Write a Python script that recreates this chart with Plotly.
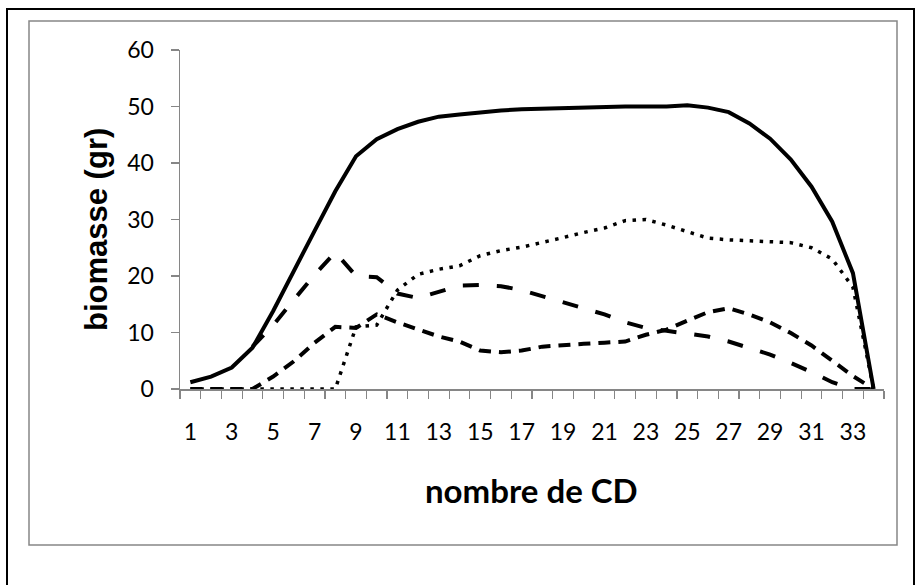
import plotly.graph_objects as go

# ---- data ----
cd = list(range(1, 35))
tick_vals = list(range(1, 34, 2))
tick_text = [str(v) for v in tick_vals]

total = [1.2, 2.2, 3.8, 7.3, 13.8, 21, 28, 35, 41.2, 44.2,
         46, 47.3, 48.2, 48.6, 49, 49.3, 49.5, 49.6, 49.8, 49.9,
         50, 50, 50, 50, 50.2, 49.8, 49, 47, 44.3, 40.6,
         35.8, 29.6, 20.5, 0]
long_dash = [None, None, None, 7.5, 11.3, 15.8, 20.2, 24.2, 20, 19.8,
             16.9, 16.1, 17.2, 18.3, 18.4, 18.2, 17.5, 16.4, 15.3, 14.3,
             13.2, 11.8, 10.8, 10.3, 9.8, 9.3, 8.4, 7.3, 6.1, 4.6,
             3, 1.2, 0, 0]
medium_dash = [0, 0, 0, 0, 2.2, 4.9, 8.2, 11, 10.8, 13.2,
               11.8, 10.6, 9.3, 8.4, 6.8, 6.5, 6.8, 7.5, 7.8, 8.0,
               8.2, 8.4, 9.6, 10.5, 12.1, 13.6, 14.3, 13.2, 11.8, 9.9,
               7.7, 4.9, 2.3, 0]
dotted = [0, 0, 0, 0, 0, 0, 0, 0, 11, 11.3,
          17.5, 20.3, 21.2, 21.8, 23.6, 24.5, 25.1, 25.9, 26.8, 27.7,
          28.5, 29.8, 30, 29, 27.8, 26.7, 26.4, 26.2, 26.1, 25.9,
          25, 23, 18, 0]

# ---- layout geometry (pixels) ----
W, H = 918, 585
L, R, T, B = 180, 34, 50, 196
PW, PH = W - L - R, H - T - B


def px(x):
    return (x - L) / PW


def py(y):
    return (H - B - y) / PH


fig = go.Figure()

fig.add_trace(go.Scatter(x=cd, y=dotted, mode="lines",
                         line=dict(color="black", width=3.5, dash="3.5px,6.5px")))
fig.add_trace(go.Scatter(x=cd, y=medium_dash, mode="lines",
                         line=dict(color="black", width=4, dash="12px,8px")))
fig.add_trace(go.Scatter(x=cd, y=long_dash, mode="lines",
                         line=dict(color="black", width=4, dash="16px,18px")))
fig.add_trace(go.Scatter(x=cd, y=total, mode="lines",
                         line=dict(color="black", width=4)))

axis_gray = "#868686"

fig.update_layout(
    width=W, height=H,
    margin=dict(l=L, r=R, t=T, b=B),
    paper_bgcolor="white", plot_bgcolor="white",
    showlegend=False,
    font=dict(family="Lato", color="#000000"),
    xaxis=dict(
        range=[0.5, 34.5],
        tickmode="array", tickvals=tick_vals, ticktext=tick_text,
        ticks="", ticklabelstandoff=22,
        tickfont=dict(family="Lato", size=23, color="#000"),
        showline=True, linecolor=axis_gray, linewidth=1.5,
        showgrid=False, zeroline=False,
        minor=dict(tick0=0.5, dtick=1, ticks="outside", ticklen=8,
                   tickcolor=axis_gray, tickwidth=1.2, showgrid=False),
    ),
    yaxis=dict(
        range=[0, 60], dtick=10,
        ticks="outside", ticklen=8, tickcolor=axis_gray, tickwidth=1.2,
        ticklabelstandoff=12,
        tickfont=dict(family="Lato", size=23, color="#000"),
        showline=True, linecolor=axis_gray, linewidth=1.5,
        showgrid=False, zeroline=False,
    ),
    shapes=[
        dict(type="rect", xref="paper", yref="paper", layer="below",
             x0=px(7), x1=px(914), y0=py(600), y1=py(9),
             line=dict(color="black", width=2), fillcolor="rgba(0,0,0,0)"),
        dict(type="rect", xref="paper", yref="paper", layer="below",
             x0=px(29), x1=px(897), y0=py(545), y1=py(21),
             line=dict(color=axis_gray, width=1.5), fillcolor="rgba(0,0,0,0)"),
    ],
    annotations=[
        dict(text="<b>nombre de CD</b>", xref="paper", yref="paper",
             x=px(531), y=py(490), xanchor="center", yanchor="middle",
             showarrow=False, font=dict(family="Lato", size=33, color="#000")),
        dict(text="<b>biomasse (gr)</b>", xref="paper", yref="paper",
             x=px(97), y=py(230), xanchor="center", yanchor="middle",
             textangle=-90, showarrow=False,
             font=dict(family="Liberation Sans", size=31, color="#000")),
    ],
)

fig.write_html("out.html",
               config={"displayModeBar": False, "staticPlot": True},
               post_script="document.body.style.margin='0';document.body.style.overflow='hidden';")
